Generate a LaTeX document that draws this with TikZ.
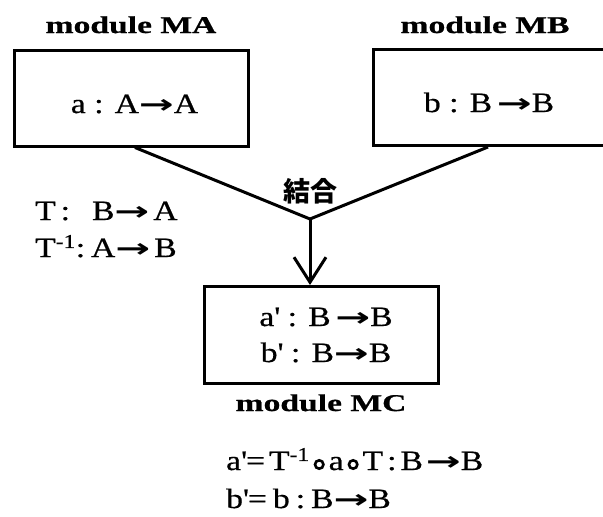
\documentclass[tikz,border=0pt]{standalone}
\usepackage{fontspec}
\usepackage{graphicx}
\usetikzlibrary{arrows.meta}
\setmainfont{Liberation Serif}[FakeStretch=1.2]
\newfontfamily\bodyf{Liberation Serif}[FakeStretch=1.2, FakeBold=0.6]
\newfontfamily\labf{Liberation Serif}[FakeStretch=1.4, FakeBold=0.8]
\newfontfamily\arrf{DejaVu Sans}
\newfontfamily\cjk{Noto Sans CJK JP}
\newcommand\ar{{\arrf\bfseries\fontsize{26}{30}\selectfont\scalebox{1.6}[1]{→}}}
\newcommand\rng{\hspace{4pt}\tikz[baseline=0pt]\draw[line width=2.6pt] (0pt,5.5pt) circle[radius=4.2pt];\hspace{4pt}}
\newcommand\q{\textquotesingle}
\tikzset{
  box/.style={draw, line width=3pt, inner sep=0pt},
  lab/.style={font=\labf\fontsize{24}{28}\selectfont\bfseries, inner sep=0pt},
  body/.style={font=\bodyf\fontsize{28}{34}\selectfont, inner sep=0pt},
  conn/.style={line width=3pt},
}
\begin{document}
\begin{tikzpicture}[x=1pt,y=-1pt]
\useasboundingbox (0,0) rectangle (603,517);
\clip (0,0) rectangle (603,517);
% boxes
\node[box, minimum width=234pt, minimum height=96pt] (MA) at (131.5,98) {};
\node[box, minimum width=236pt, minimum height=96pt] (MB) at (491,97.5) {};
\node[box, minimum width=234pt, minimum height=97pt] (MC) at (321.5,335) {};
% labels
\node[lab, anchor=base] (lMA) at (131,33) {module MA};
\node[lab, anchor=base] (lMB) at (485,33) {module MB};
\node[lab, anchor=base] (lMC) at (321,411) {module MC};
% box texts
\node[body, anchor=base] (ta) at (134.5,113) {a : A\ar A};
\node[body, anchor=base] (tb) at (489,112) {b : B\,\ar B};
\node[body, anchor=base] (tc1) at (326,326) {a\q\ : B\,\ar B};
\node[body, anchor=base] (tc2) at (326,362) {b\q\ : B\ar B};
% T lines
\node[body, anchor=base west] (t1) at (35,220) {T\hspace{5pt}:\hspace{22pt}B\ar\hspace{4pt}A};
\node[body, anchor=base west] (t2) at (35,257) {T\textsuperscript{-1}:\hspace{6pt}A\ar\hspace{4pt}B};
% bottom formulas
\node[body, anchor=base west] (f1) at (226,470) {a\q=\hspace{4pt}T\textsuperscript{-1}\rng a\rng T\hspace{4pt}:\hspace{4pt}B\hspace{3pt}\ar B};
\node[body, anchor=base west] (f2) at (226,508) {b\q=\hspace{6pt}b\hspace{6pt}:\hspace{6pt}B\ar B};
% connectors
\coordinate (j) at (310,219);
\node[font=\cjk\bfseries\fontsize{27}{30}\selectfont, inner sep=0pt] (kt) at (310,191) {結合};
\draw[conn] (MA.south -| 135,0) -- (j);
\draw[conn] (MB.south -| 488,0) -- (j);
\draw[conn, -{Straight Barb[length=25pt, width=32pt, line width=3pt]}] (j) -- (j |- MC.north);
\end{tikzpicture}
\end{document}
